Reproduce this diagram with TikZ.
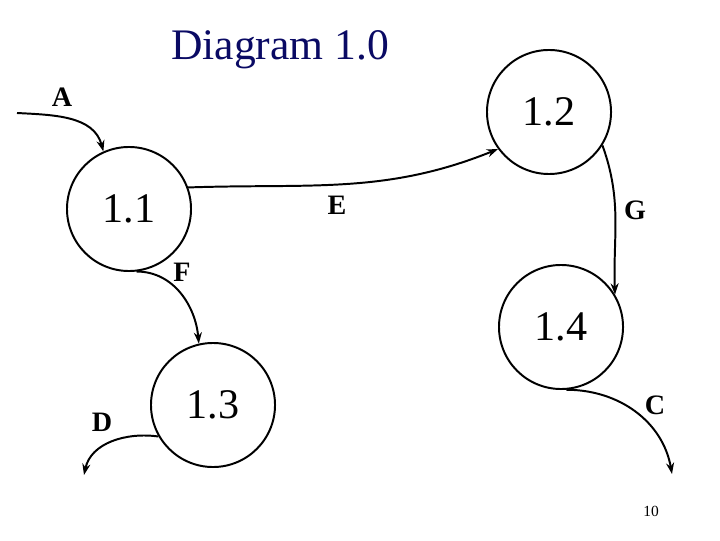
\documentclass[tikz,border=0pt]{standalone}
\usepackage{fontspec}
\setmainfont{Liberation Serif}
\usetikzlibrary{arrows.meta, positioning}
\definecolor{titleblue}{RGB}{10,10,100}
\tikzset{
  proc/.style={draw, circle, line width=1.4pt, minimum size=3.1cm, inner sep=0pt, font=\fontsize{30}{34}\selectfont},
  flow/.style={-{Stealth[length=2.8mm, width=2mm]}, line width=1.4pt},
  lbl/.style={font=\fontsize{20}{24}\selectfont\bfseries},
}
\begin{document}
\begin{tikzpicture}[x=0.025cm, y=0.025cm]
    \useasboundingbox (0,0) rectangle (720,540);
    \node[font=\fontsize{31}{36}\selectfont, text=titleblue] (title) at (280,490) {Diagram 1.0};
    \node[proc] (p11) at (129,331) {1.1};
    \node[proc] (p12) at (549,428) {1.2};
    \node[proc] (p13) at (213,135) {1.3};
    \node[proc] (p14) at (561,213) {1.4};
    \coordinate (srcA) at (17,427);
    \coordinate (sinkD) at (84,65);
    \coordinate (sinkC) at (672,66);
    \draw[flow] (srcA) to[out=-3, in=105] (p11.114);
    \draw[flow] (p11.20) to[out=2, in=202] (p12.216);
    \draw[flow] (p12.-32) to[out=-70, in=92] (p14.31);
    \draw[flow] (p11.277) to[out=0, in=95] (p13.103);
    \draw[flow] (p13.210) to[out=172, in=78] (sinkD);
    \draw[flow] (p14.275) to[out=0, in=100] (sinkC);
    \node[lbl] (la) at (62,443) {A};
    \node[lbl] (le) at (337,335) {E};
    \node[lbl] (lg) at (635,330) {G};
    \node[lbl] (lf) at (182,268) {F};
    \node[lbl] (ld) at (102,118) {D};
    \node[lbl] (lc) at (655,135) {C};
    \node[font=\fontsize{11}{13}\selectfont] (pg) at (651,29) {10};
  \end{tikzpicture}
\end{document}
